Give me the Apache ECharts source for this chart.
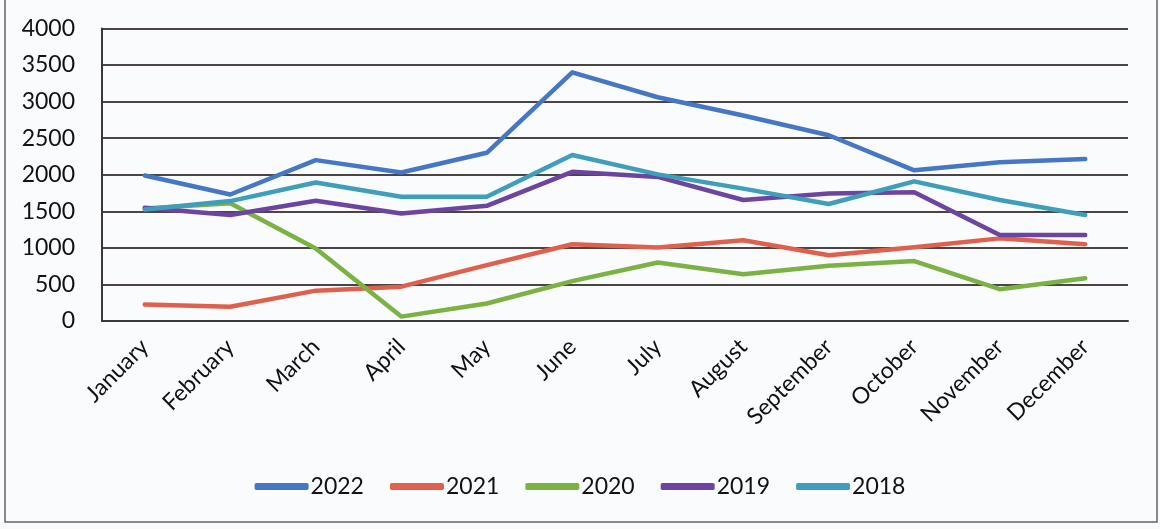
<!DOCTYPE html>
<html>
<head>
<meta charset="utf-8">
<script src="https://cdn.jsdelivr.net/npm/echarts@6/dist/echarts.min.js"></script>
<style>
html,body{margin:0;padding:0;background:#fafbfd;}
#c{width:1160px;height:529px;}
</style>
</head>
<body>
<div id="c"></div>
<script>
var categories = ["January","February","March","April","May","June","July","August","September","October","November","December"];
var yTicks = [0,500,1000,1500,2000,2500,3000,3500,4000];
var seriesNames = ["2022","2021","2020","2019","2018"];
var s2022 = [1990,1730,2200,2030,2300,3400,3060,2810,2540,2060,2170,2215];
var s2021 = [225,195,415,470,765,1050,1005,1105,900,1010,1130,1050];
var s2020 = [1540,1610,990,60,240,545,800,640,755,820,435,585];
var s2019 = [1550,1450,1645,1470,1575,2040,1970,1655,1745,1760,1175,1175];
var s2018 = [1525,1640,1895,1700,1700,2270,2005,1810,1600,1910,1655,1450];
var colors = ["#4677c4","#e0604e","#7cb143","#6d449f","#3f9fbb"];

var data = [s2022,s2021,s2020,s2019,s2018];
var chart = echarts.init(document.getElementById('c'));
var font = "Lato, 'Open Sans', sans-serif";
chart.setOption({
  backgroundColor: '#fafbfd',
  animation: false,
  graphic: [{
    type: 'rect', shape: {x: 5, y: -5, width: 1152, height: 527},
    style: {fill: 'none', stroke: '#666', lineWidth: 1.5}, silent: true
  }],
  grid: {left: 102, right: 32, top: 28.5, bottom: 208},
  legend: {
    bottom: 26, left: 'center',
    itemWidth: 54, itemHeight: 7, itemGap: 26,
    icon: 'roundRect',
    textStyle: {fontFamily: font, fontSize: 23, color: '#111', padding: [0,0,0,-3]},
    data: seriesNames
  },
  xAxis: {
    type: 'category', data: categories, boundaryGap: true,
    axisLine: {show: true, lineStyle: {color: '#3d3838', width: 2}},
    axisTick: {show: false},
    axisLabel: {rotate: 45, margin: 22, fontFamily: font, fontSize: 23, color: '#111', interval: 0}
  },
  yAxis: {
    type: 'value', min: yTicks[0], max: yTicks[yTicks.length-1], interval: 500,
    axisLine: {show: true, lineStyle: {color: '#3d3838', width: 2}},
    axisTick: {show: false},
    axisLabel: {margin: 27, fontFamily: font, fontSize: 23, color: '#111', formatter: function(v){ return String(v); }},
    splitLine: {lineStyle: {color: '#4a4444', width: 2}}
  },
  series: seriesNames.map(function(n, i){
    return {
      name: n, type: 'line', data: data[i], symbol: 'none', smooth: false,
      lineStyle: {width: 4.5, color: colors[i], cap: 'round', join: 'round'},
      itemStyle: {color: colors[i]}
    };
  })
});
</script>
</body>
</html>
